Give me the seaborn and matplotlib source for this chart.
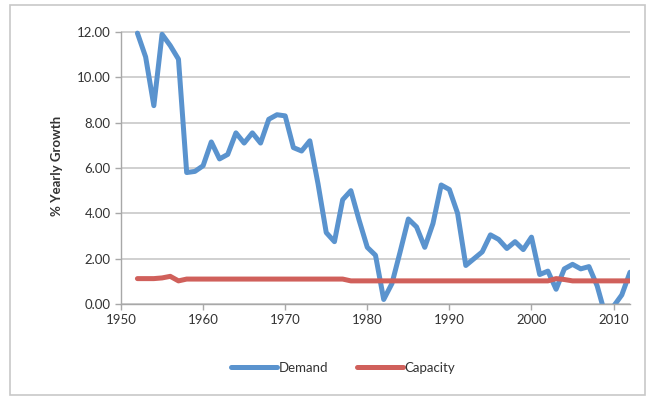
import numpy as np
import pandas as pd
import matplotlib
matplotlib.use('Agg')
import matplotlib.pyplot as plt
import seaborn as sns
from matplotlib.patches import Rectangle

# データ
years = list(range(1952, 2013))
demand = [11.95, 10.9, 8.75, 11.9, 11.4, 10.8, 5.8, 5.85, 6.1, 7.15,
          6.4, 6.6, 7.55, 7.1, 7.55, 7.1, 8.15, 8.35, 8.3, 6.9,
          6.75, 7.2, 5.3, 3.15, 2.75, 4.6, 5.0, 3.7, 2.5, 2.15,
          0.2, 0.9, 2.3, 3.75, 3.4, 2.5, 3.55, 5.25, 5.05, 4.0,
          1.7, 2.0, 2.3, 3.05, 2.85, 2.45, 2.75, 2.4, 2.95, 1.3,
          1.45, 0.65, 1.55, 1.75, 1.55, 1.65, 0.8, -0.5, -0.1, 0.4, 1.4]
capacity = [1.12, 1.12, 1.12, 1.15, 1.22, 1.02] + [1.1] * 20 + [1.02] * 25 + [1.12, 1.08] + [1.02] * 8

df = pd.DataFrame({
    'Year': years * 2,
    'Growth': demand + capacity,
    'Series': ['Demand'] * len(years) + ['Capacity'] * len(years),
})

sns.set_theme(style='white')
plt.rcParams['font.family'] = ['Lato', 'DejaVu Sans']

# 0 -> y=304px, 12 -> y=32px; 上端だけ少し余裕を持たせる
ytop = 12.2
px_per_unit = (304 - 32) / 12
top_px = 304 - ytop * px_per_unit

fig = plt.figure(figsize=(6.57, 4.0), dpi=100)
ax = fig.add_axes([121 / 657, 1 - 304 / 400, (630 - 121) / 657, (304 - top_px) / 400])

sns.lineplot(data=df, x='Year', y='Growth', hue='Series',
             palette={'Demand': '#5A93CE', 'Capacity': '#D0605B'},
             linewidth=3.6, ax=ax, legend=True)

ax.set_xlim(1950, 2012)
ax.set_ylim(0, ytop)
ax.set_xticks(range(1950, 2011, 10))
ax.set_yticks(np.arange(0, 12.1, 2))
ax.set_yticklabels([f'{v:.2f}' for v in np.arange(0, 12.1, 2)])
ax.yaxis.grid(True, color='#C8C8C8', linewidth=1.2)
ax.xaxis.grid(False)
ax.set_axisbelow(True)

for s in ['top', 'right']:
    ax.spines[s].set_visible(False)
for s in ['left', 'bottom']:
    ax.spines[s].set_color('#A8A8A8')
    ax.spines[s].set_linewidth(1.0)
ax.spines['left'].set_bounds(0, 12)

ax.tick_params(axis='both', direction='out', length=4, width=1, color='#A8A8A8',
               labelsize=9.5, labelcolor='#333333', left=True, bottom=True)
ax.set_xlabel('')
ax.set_ylabel('% Yearly Growth', fontsize=9.5, fontweight='bold', color='#333333', labelpad=10)

handles, labels = ax.get_legend_handles_labels()
ax.legend(handles, labels, loc='center', bbox_to_anchor=(343 / 657, 1 - 368 / 400),
          bbox_transform=fig.transFigure, ncol=2, frameon=False, fontsize=9.5,
          handlelength=3.5, handletextpad=0.1, columnspacing=2.2, labelcolor='#333333')

# 外枠
fig.patches.append(Rectangle((10 / 657, 5 / 400), 635 / 657, 390 / 400, transform=fig.transFigure,
                             fill=False, edgecolor='#C8C8C8', linewidth=1.2))

plt.savefig('out.png', dpi=100)
plt.close()
